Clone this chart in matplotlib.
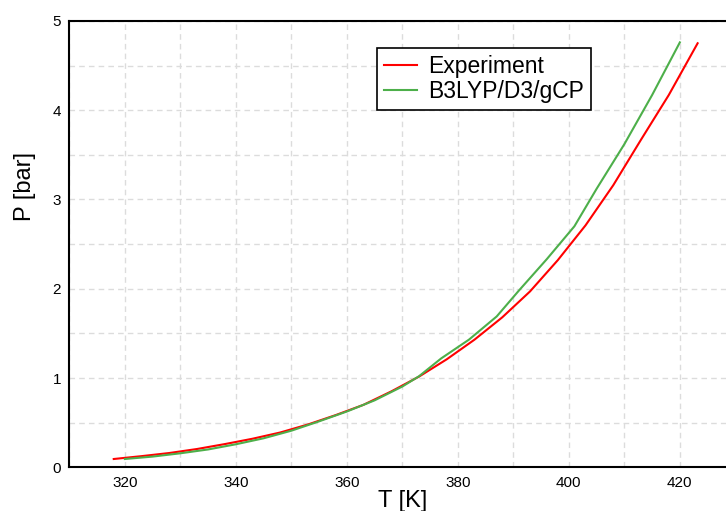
import matplotlib
matplotlib.use("Agg")
import matplotlib.pyplot as plt
from matplotlib.ticker import MultipleLocator

plt.rcParams["font.family"] = ["Liberation Sans", "DejaVu Sans"]

# Experiment (red)
T_exp = [318, 323, 328, 333, 338, 343, 348, 353, 358, 363, 368, 373,
         378, 383, 388, 393, 398, 403, 408, 413, 418, 423.2]
P_exp = [0.093, 0.125, 0.16, 0.205, 0.26, 0.32, 0.39, 0.48, 0.585, 0.70, 0.85, 1.016,
         1.21, 1.43, 1.68, 1.97, 2.32, 2.71, 3.16, 3.67, 4.17, 4.75]

# B3LYP/D3/gCP (green)
T_calc = [320, 325, 330, 335, 340, 345, 350, 355, 360, 365, 370, 373,
          377, 382, 387, 391, 396, 401, 405, 410, 415, 420]
P_calc = [0.093, 0.12, 0.157, 0.20, 0.258, 0.325, 0.41, 0.515, 0.625, 0.75, 0.905, 1.02,
          1.22, 1.43, 1.69, 1.98, 2.33, 2.70, 3.12, 3.62, 4.17, 4.76]

fig = plt.figure(figsize=(7.26, 5.11), dpi=100)
ax = fig.add_axes([0.0955, 0.0855, 0.9174, 0.8735])

ax.plot(T_exp, P_exp, color="#ff0000", linewidth=1.5, label="Experiment", zorder=3)
ax.plot(T_calc, P_calc, color="#4daf4a", linewidth=1.5, label="B3LYP/D3/gCP", zorder=4)

ax.set_xlim(310, 430)
ax.set_ylim(0, 5)
ax.xaxis.set_major_locator(MultipleLocator(20))
ax.xaxis.set_minor_locator(MultipleLocator(10))
ax.yaxis.set_major_locator(MultipleLocator(1))
ax.yaxis.set_minor_locator(MultipleLocator(0.5))
ax.tick_params(which="both", length=0, labelsize=11, pad=6)

ax.grid(True, which="both", color="#dcdcdc", linestyle=(0, (4, 3)), linewidth=1.0)
ax.set_axisbelow(True)

for side in ["left", "bottom", "top"]:
    ax.spines[side].set_linewidth(1.5)
    ax.spines[side].set_color("black")
ax.spines["right"].set_visible(False)

ax.set_xlabel("T [K]", fontsize=17)
ax.set_ylabel("P [bar]", fontsize=17)
ax.xaxis.set_label_coords(0.5, -0.051)
ax.yaxis.set_label_coords(-0.05, 0.63)

leg = ax.legend(loc="upper left", bbox_to_anchor=(377 / 726, 1 - 48 / 511),
                bbox_transform=fig.transFigure, borderaxespad=0,
                fontsize=16.5, fancybox=False, framealpha=1, edgecolor="black",
                handlelength=1.45, handletextpad=0.5, labelspacing=0.1,
                borderpad=0.3)
leg.get_frame().set_linewidth(1.2)

fig.savefig("out.png", dpi=100)
